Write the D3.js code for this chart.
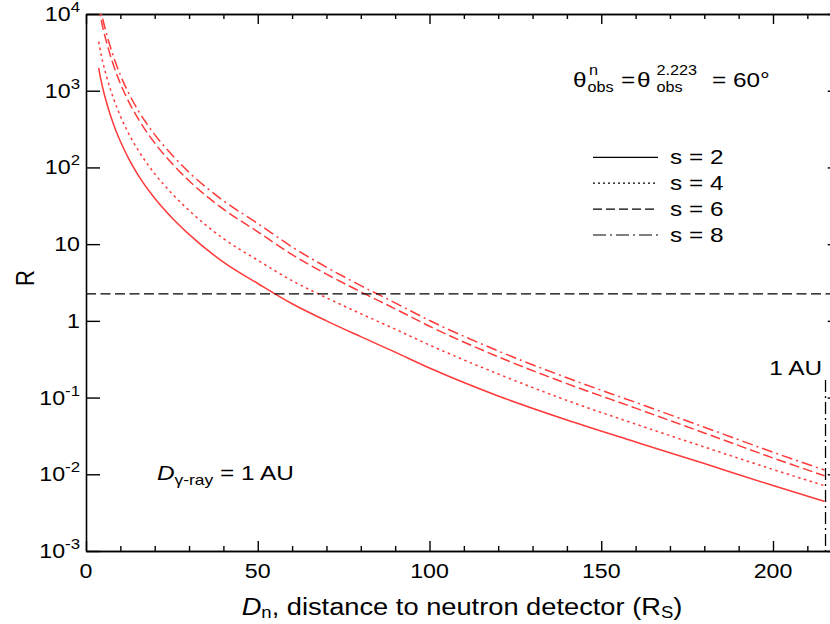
<!DOCTYPE html>
<html><head><meta charset="utf-8">
<script src="https://cdn.jsdelivr.net/npm/d3@7"></script>
<style>
body{margin:0;background:#fff}
svg{display:block;font-family:"Liberation Sans",Arial,Helvetica,sans-serif}
</style></head><body>
<svg id="c" width="830" height="624"></svg>
<script>
// ---- data ----
const distances = [3.7,4,5,6,8,10,12.5,15,20,25,30,40,50,60,70,80,90,100,120,140,160,180,200,215];
const R_s2 = [1980,1660,1030,698,366,219,128,81.8,39.6,22.1,13.4,5.83,3.07,1.67,1.00,0.622,0.391,0.243,0.105,0.0510,0.0264,0.0138,0.00713,0.00442];
const R_s4 = [4370,3664,2249,1521,793,468,272,173,82.8,45.7,27.5,11.8,6.17,3.34,2.00,1.24,0.780,0.484,0.203,0.0918,0.0451,0.0227,0.01156,0.0071];
const R_s6 = [12600,10500,6340,4256,2158,1245,710,445,208,113,67.0,28.6,14.5,7.31,4.07,2.39,1.435,0.851,0.340,0.152,0.0728,0.0346,0.01633,0.00955];
const R_s8 = [16200,13500,8170,5483,2780,1603,914,573,268,146,86.3,36.8,18.6,9.20,5.01,2.88,1.714,1.012,0.405,0.181,0.0865,0.0411,0.0194,0.01135];
const seriesLabels = ["s = 2","s = 4","s = 6","s = 8"];
const thresholdR = 2.25;
const oneAU = 215;
const xMajorTicks = [0,50,100,150,200];
const xMinorTicks = [10,20,30,40,60,70,80,90,110,120,130,140,160,170,180,190,210,220];
const yTickExps = [-3,-2,-1,0,1,2,3,4];

// ---- layout ----
const svg = d3.select("#c");
const L = 86, T = 14, B = 551, Rt = 841.7;
const SX = 1.16; // horizontal glyph stretch of the reference lettering
const x = d3.scaleLinear().domain([0,220]).range([L,Rt]);
const y = d3.scaleLog().domain([1e-3,1e4]).range([B,T]);
const red = "#ff3a3a";
const styles = [null,"2.5,3.5","10,4","11,4,2,4"];
const legendStyles = [null,"2,3","9,4","13,4,2,4"];
const series = [R_s2,R_s4,R_s6,R_s8];

function txt(px, py, size, anchor, rot){
  const g = svg.append("g").attr("transform",`translate(${px},${py}) scale(${SX},1)` + (rot?` rotate(${rot})`:""));
  return g.append("text").attr("x",0).attr("y",0).attr("font-size",size)
    .attr("text-anchor",anchor||"start").attr("fill","#000");
}

svg.append("defs").append("clipPath").attr("id","clip")
  .append("rect").attr("x",L).attr("y",T).attr("width",Rt-L).attr("height",B-T);

// axes
svg.append("g").attr("transform",`translate(0,${B})`)
  .call(d3.axisBottom(x).tickValues(xMajorTicks).tickSizeInner(-10).tickSizeOuter(0).tickFormat(""));
svg.append("g").attr("transform",`translate(0,${B})`)
  .call(d3.axisBottom(x).tickValues(xMinorTicks).tickSizeInner(-5).tickSizeOuter(0).tickFormat(""));
svg.append("g").attr("transform",`translate(0,${T})`)
  .call(d3.axisTop(x).tickValues(xMajorTicks).tickSizeInner(-10).tickSizeOuter(0).tickFormat(""));
svg.append("g").attr("transform",`translate(0,${T})`)
  .call(d3.axisTop(x).tickValues(xMinorTicks).tickSizeInner(-5).tickSizeOuter(0).tickFormat(""));
const yTickVals = yTickExps.map(e=>Math.pow(10,e));
svg.append("g").attr("transform",`translate(${L},0)`)
  .call(d3.axisLeft(y).tickValues(yTickVals).tickSizeInner(-14).tickSizeOuter(0).tickFormat(""));
svg.append("g").attr("transform",`translate(${Rt},0)`)
  .call(d3.axisRight(y).tickValues(yTickVals).tickSizeInner(-14).tickSizeOuter(0).tickFormat(""));
svg.selectAll(".domain").attr("stroke","#000").attr("stroke-width",1.6);
svg.selectAll(".tick line").attr("stroke","#000").attr("stroke-width",1.4);

// x tick labels
xMajorTicks.forEach(v=>{ txt(x(v),578,20,"middle").text(String(v)); });

// y tick labels with superscripts
yTickExps.forEach(e=>{
  const t = txt(80, y(Math.pow(10,e))+7, 20, "end");
  if(e===0){ t.text("1"); }
  else if(e===1){ t.text("10"); }
  else {
    t.append("tspan").text("10");
    t.append("tspan").attr("font-size",14.5).attr("dy",-9).text(String(e));
  }
});

// curves
const line = d3.line().x(d=>x(d[0])).y(d=>y(d[1])).curve(d3.curveMonotoneX);
const plot = svg.append("g").attr("clip-path","url(#clip)");
series.forEach((vals,i)=>{
  plot.append("path").datum(distances.map((d,j)=>[d,vals[j]]))
    .attr("d",line).attr("fill","none").attr("stroke",red).attr("stroke-width",1.5)
    .attr("stroke-dasharray",styles[i]);
});
// threshold line
plot.append("line").attr("x1",L).attr("x2",Rt).attr("y1",y(thresholdR)).attr("y2",y(thresholdR))
  .attr("stroke","#000").attr("stroke-width",1.4).attr("stroke-dasharray","10,4.5");
// 1 AU line
plot.append("line").attr("x1",x(oneAU)+1).attr("x2",x(oneAU)+1).attr("y1",380).attr("y2",B)
  .attr("stroke","#000").attr("stroke-width",1.3).attr("stroke-dasharray","12,4,2,4");
txt(822,375,21,"end").text("1 AU");

// legend
seriesLabels.forEach((lab,i)=>{
  const ly = 157.3 + i*25.9;
  svg.append("line").attr("x1",593).attr("x2",658).attr("y1",ly).attr("y2",ly)
    .attr("stroke","#000").attr("stroke-width",1.2).attr("stroke-dasharray",legendStyles[i]);
  txt(670, ly+7, 21).text(lab);
});

// theta annotation
txt(573,87,21).text("θ");
txt(589,75,14).text("n");
txt(587.5,92,14).text("obs");
txt(621,87,21).text("=");
txt(637,87,21).text("θ");
txt(656.5,75,14).text("2.223");
txt(656.5,92,14).text("obs");
txt(712,87,21).text("= 60°");

// D gamma annotation
const dg = txt(157,480,21);
dg.append("tspan").attr("font-style","italic").text("D");
dg.append("tspan").attr("font-size",15).attr("dy",5).text("γ-ray");
dg.append("tspan").attr("dy",-5).text(" = 1 AU");

// axis titles
const xt = txt(462,615,23.5,"middle");
xt.append("tspan").attr("font-style","italic").text("D");
xt.append("tspan").attr("font-size",16).attr("dy",3).text("n");
xt.append("tspan").attr("dy",-3).text(", distance to neutron detector (R");
xt.append("tspan").attr("font-size",16).attr("dy",3).text("S");
xt.append("tspan").attr("dy",-3).text(")");
txt(34,278,22,"middle",-90).text("R");
</script>
</body></html>
